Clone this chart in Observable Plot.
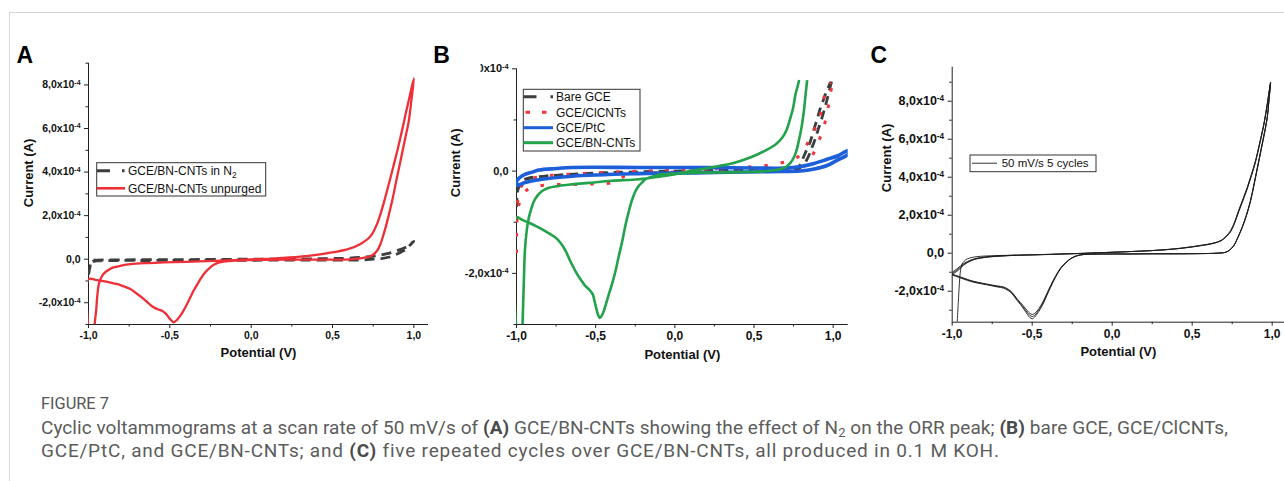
<!DOCTYPE html>
<html><head><meta charset="utf-8">
<script src="https://cdn.jsdelivr.net/npm/d3@7"></script>
<script src="https://cdn.jsdelivr.net/npm/@observablehq/plot@0.6"></script>
<style>
html,body{margin:0;padding:0;background:#fff}
body{width:1284px;height:481px;overflow:hidden;position:relative;font-family:"Liberation Sans",Arial,sans-serif}
#frameLine{position:absolute;left:9px;top:12px;width:1290px;height:480px;border-top:1px solid #d6d6d6;border-left:1px solid #d6d6d6}
.panel{position:absolute}
.letter{position:absolute;font:bold 23px/23px "Liberation Sans",Arial,sans-serif;color:#000}
#caption{position:absolute;left:41px;top:391px;font-family:Roboto,"Noto Sans",sans-serif;color:#5c5c5c;font-size:17px;line-height:23.5px}
#caption .capline{display:inline-block;white-space:nowrap}
#caption b{color:#4a4a4a;font-weight:700}
#caption sub{font-size:0.68em;line-height:0;vertical-align:-3px}
#figTitle{color:#555;display:inline-block;white-space:nowrap}
</style></head>
<body>
<div id="frameLine"></div>
<div class="letter" style="left:16.5px;top:43.7px">A</div>
<div class="letter" style="left:433.3px;top:43.7px">B</div>
<div class="letter" style="left:870.5px;top:43.7px">C</div>
<div id="panelA" class="panel" style="left:0px;top:40px"></div>
<div id="panelB" class="panel" style="left:430px;top:40px"></div>
<div id="panelC" class="panel" style="left:860px;top:40px"></div>
<div id="caption">
  <div><span id="figTitle">FIGURE 7</span></div>
  <div><span class="capline" id="cap1">Cyclic voltammograms at a scan rate of 50 mV/s of <b>(A)</b> GCE/BN-CNTs showing the effect of N<sub>2</sub> on the ORR peak; <b>(B)</b> bare GCE, GCE/ClCNTs,</span></div>
  <div><span class="capline" id="cap2">GCE/PtC, and GCE/BN-CNTs; and <b>(C)</b> five repeated cycles over GCE/BN-CNTs, all produced in 0.1 M KOH.</span></div>
</div>
<script>
// ================= DATA =================
// Potential (V) ticks
const xMajorTicks = [-1, -0.5, 0, 0.5, 1];
const xMinorTicks = [-0.75, -0.25, 0.25, 0.75];
// Current ticks (A)
const aYMajor = [-2e-4, 0, 2e-4, 4e-4, 6e-4, 8e-4];
const aYMinor = [-3e-4, -1e-4, 1e-4, 3e-4, 5e-4, 7e-4, 9e-4];
const bYMajor = [-2e-4, 0, 2e-4];
const bYMinor = [-3e-4, -1e-4, 1e-4];
const cYMajor = [-2e-4, 0, 2e-4, 4e-4, 6e-4, 8e-4];
const cYMinor = [-3e-4, -1e-4, 1e-4, 3e-4, 5e-4, 7e-4, 9e-4];

// Panel A series names
const aNames = ["GCE/BN-CNTs in N2", "GCE/BN-CNTs unpurged"];
// Panel A: [potential V, current x1e-4 A]
const aN2 = [[-1.0,-0.7],[-0.992,-0.4],[-0.985,-0.15],[-0.975,-0.06],[-0.95,-0.04],[-0.8,-0.03],[-0.5,-0.02],[-0.2,-0.01],[0.0,0.0],[0.3,0.01],[0.5,0.03],[0.6,0.05],[0.7,0.1],[0.75,0.14],[0.8,0.2],[0.85,0.28],[0.9,0.4],[0.95,0.55],[1.0,0.82],
  [0.97,0.6],[0.95,0.45],[0.92,0.32],[0.9,0.25],[0.85,0.1],[0.8,0.03],[0.75,0.0],[0.7,-0.03],[0.6,-0.04],[0.3,-0.04],[0.0,-0.05],[-0.3,-0.05],[-0.6,-0.06],[-0.8,-0.06],[-0.9,-0.07],[-0.95,-0.08],[-0.98,-0.12],[-1.0,-0.3]];
const aUnpurged = [[-0.965,-3.2],[-0.958,-2.7],[-0.953,-2.36],[-0.945,-1.6],[-0.935,-1.1],[-0.92,-0.82],[-0.9,-0.62],[-0.87,-0.46],[-0.846,-0.38],[-0.8,-0.3],[-0.743,-0.23],[-0.65,-0.18],[-0.54,-0.15],[-0.4,-0.12],[-0.23,-0.08],[-0.1,-0.04],[0.0,-0.01],[0.15,0.04],[0.303,0.12],[0.4,0.2],[0.508,0.32],[0.6,0.47],[0.672,0.7],[0.72,0.95],[0.744,1.16],[0.77,1.55],[0.795,2.08],[0.82,2.72],[0.846,3.45],[0.872,4.2],[0.898,4.97],[0.924,5.8],[0.949,6.65],[0.975,7.5],[1.0,8.3],
  [0.985,7.3],[0.969,6.35],[0.944,5.45],[0.918,4.52],[0.892,3.6],[0.867,2.69],[0.84,1.85],[0.815,1.16],[0.795,0.7],[0.775,0.4],[0.745,0.18],[0.713,0.09],[0.66,0.03],[0.61,-0.01],[0.45,-0.02],[0.3,-0.02],[0.1,-0.03],[0.0,-0.04],[-0.1,-0.06],[-0.17,-0.11],[-0.2,-0.16],[-0.23,-0.26],[-0.26,-0.43],[-0.292,-0.69],[-0.323,-1.05],[-0.354,-1.45],[-0.394,-2.06],[-0.415,-2.35],[-0.436,-2.6],[-0.455,-2.78],[-0.477,-2.9],[-0.495,-2.78],[-0.514,-2.6],[-0.53,-2.47],[-0.548,-2.37],[-0.575,-2.3],[-0.6,-2.21],[-0.63,-2.03],[-0.66,-1.83],[-0.7,-1.6],[-0.743,-1.37],[-0.8,-1.2],[-0.846,-1.11],[-0.9,-1.02],[-0.95,-0.96],[-1.0,-0.92],[-1.0,-3.2]];

// Panel B series names
const bNames = ["Bare GCE", "GCE/ClCNTs", "GCE/PtC", "GCE/BN-CNTs"];
const bBare = [[-1.0,-0.7],[-0.995,-0.45],[-0.985,-0.28],[-0.97,-0.2],[-0.93,-0.14],[-0.86,-0.11],[-0.7,-0.07],[-0.5,-0.04],[-0.3,-0.02],[0.0,0.0],[0.4,0.02],[0.7,0.03],[0.773,0.05],[0.795,0.15],[0.815,0.29],[0.836,0.44],[0.857,0.59],[0.872,0.75],[0.888,0.91],[0.904,1.07],[0.92,1.24],[0.936,1.37],[0.951,1.5],[0.967,1.62],[0.983,1.74],[null,null],
  [0.99,1.75],[0.976,1.58],[0.962,1.4],[0.944,1.2],[0.925,1.0],[0.906,0.82],[0.886,0.62],[0.866,0.46],[0.846,0.3],[0.826,0.18],[0.806,0.1],[0.76,0.02],[0.5,0.0],[0.0,-0.02],[-0.3,-0.04],[-0.6,-0.07],[-0.8,-0.1],[-0.9,-0.13],[-0.95,-0.18],[-0.99,-0.35],[-1.0,-0.5]];
const bClCNTs = [[-1.0,-1.6],[-0.998,-1.0],[-0.993,-0.6],[-0.985,-0.42],[-0.97,-0.3],[-0.94,-0.2],[-0.9,-0.14],[-0.8,-0.09],[-0.6,-0.05],[-0.4,-0.02],[-0.2,0.0],[0.0,0.02],[0.2,0.04],[0.351,0.07],[0.45,0.08],[0.552,0.1],[0.636,0.14],[0.72,0.2],[0.783,0.29],[0.815,0.42],[0.846,0.59],[0.868,0.72],[0.888,0.85],[0.905,0.98],[0.92,1.11],[0.933,1.29],[0.945,1.47],[0.965,1.6],[0.983,1.73],[null,null],
  [0.99,1.62],[0.983,1.53],[0.975,1.38],[0.968,1.24],[0.957,1.07],[0.945,0.91],[0.93,0.76],[0.913,0.62],[0.895,0.48],[0.878,0.36],[0.86,0.25],[0.84,0.15],[0.8,0.07],[0.7,0.03],[0.5,0.01],[0.2,-0.01],[0.0,-0.02],[-0.2,-0.04],[-0.28,-0.08],[-0.33,-0.12],[-0.37,-0.2],[-0.42,-0.24],[-0.5,-0.25],[-0.6,-0.26],[-0.7,-0.26],[-0.8,-0.27],[-0.87,-0.29],[-0.92,-0.34],[-0.95,-0.42],[-0.98,-0.6],[-0.995,-0.9],[-1.0,-1.2]];
const bPtC = [[-1.0,-0.2],[-0.98,-0.13],[-0.95,-0.07],[-0.9,-0.02],[-0.859,0.02],[-0.75,0.05],[-0.648,0.07],[-0.227,0.07],[0.194,0.07],[0.5,0.06],[0.69,0.06],[0.794,0.09],[0.88,0.15],[0.962,0.23],[1.03,0.3],[1.095,0.4],
  [1.095,0.33],[1.03,0.22],[0.962,0.11],[0.88,0.04],[0.794,0.0],[0.6,-0.01],[0.194,-0.03],[-0.227,-0.05],[-0.648,-0.1],[-0.859,-0.17],[-0.95,-0.23],[-1.0,-0.28],[-1.0,-0.2]];
const bBNCNTs = [[-0.964,-3.2],[-0.958,-2.6],[-0.953,-2.1],[-0.947,-1.56],[-0.935,-1.15],[-0.922,-0.91],[-0.905,-0.72],[-0.89,-0.59],[-0.865,-0.47],[-0.838,-0.39],[-0.8,-0.33],[-0.733,-0.29],[-0.65,-0.26],[-0.543,-0.23],[-0.4,-0.19],[-0.228,-0.16],[-0.1,-0.11],[-0.017,-0.07],[0.1,0.0],[0.19,0.05],[0.28,0.1],[0.372,0.16],[0.48,0.27],[0.583,0.42],[0.64,0.53],[0.678,0.65],[0.705,0.8],[0.73,1.04],[0.748,1.25],[0.762,1.5],[0.775,1.65],[0.785,1.78],[null,null],
  [0.836,1.78],[0.826,1.5],[0.815,1.17],[0.8,0.85],[0.783,0.59],[0.768,0.4],[0.751,0.26],[0.73,0.16],[0.71,0.1],[0.68,0.05],[0.583,0.0],[0.4,-0.02],[0.162,-0.03],[0.0,-0.05],[-0.1,-0.07],[-0.164,-0.13],[-0.185,-0.16],[-0.206,-0.22],[-0.228,-0.29],[-0.248,-0.39],[-0.27,-0.56],[-0.29,-0.78],[-0.312,-1.06],[-0.332,-1.37],[-0.354,-1.66],[-0.375,-1.96],[-0.396,-2.2],[-0.417,-2.41],[-0.435,-2.6],[-0.449,-2.74],[-0.462,-2.83],[-0.474,-2.87],[-0.486,-2.8],[-0.497,-2.67],[-0.508,-2.53],[-0.518,-2.41],[-0.54,-2.32],[-0.564,-2.25],[-0.595,-2.12],[-0.627,-1.96],[-0.66,-1.76],[-0.69,-1.56],[-0.72,-1.41],[-0.754,-1.3],[-0.8,-1.21],[-0.838,-1.14],[-0.88,-1.07],[-0.922,-1.01],[-0.96,-0.96],[-1.0,-0.91],[-1.0,-3.2]];

// Panel C: five repeated cycles (shared potential sweep, current x1e-4 A)
const cName = "50 mV/s 5 cycles";
const cPotential = [
  -1.0,-0.975,-0.95,-0.93,-0.906,-0.875,-0.844,-0.8,-0.76,-0.68,
  -0.6,-0.5,-0.4,-0.3,-0.2,-0.1,0.0,0.12,0.25,0.4,
  0.55,0.63,0.68,0.71,0.74,0.765,0.79,0.817,0.844,0.87,
  0.896,0.922,0.948,0.97,0.99,0.98,0.969,0.943,0.916,0.89,
  0.864,0.838,0.812,0.786,0.76,0.735,0.708,0.65,0.55,0.4,
  0.25,0.1,0.0,-0.135,-0.165,-0.198,-0.23,-0.26,-0.29,-0.323,
  -0.355,-0.385,-0.407,-0.427,-0.448,-0.469,-0.485,-0.5,-0.515,-0.53,
  -0.552,-0.573,-0.594,-0.615,-0.636,-0.657,-0.678,-0.72,-0.76,-0.81,
  -0.865,-0.905,-0.948,-1.0];
const cCycle1 = [
  -1.0,-0.85,-0.68,-0.55,-0.44,-0.33,-0.26,-0.2,-0.17,-0.13,
  -0.1,-0.08,-0.06,-0.03,-0.01,0.02,0.05,0.09,0.14,0.24,
  0.41,0.53,0.67,0.88,1.19,1.65,2.25,2.85,3.47,4.15,
  4.88,5.82,6.81,7.9,9.0,8.1,7.16,6.0,4.88,3.8,
  2.77,2.0,1.37,0.85,0.41,0.18,0.05,0.0,-0.02,-0.03,
  -0.03,-0.04,-0.04,-0.05,-0.06,-0.09,-0.17,-0.3,-0.52,-0.82,
  -1.28,-1.79,-2.2,-2.58,-2.92,-3.19,-3.36,-3.45,-3.38,-3.22,
  -2.95,-2.7,-2.49,-2.25,-2.05,-1.93,-1.84,-1.77,-1.7,-1.62,
  -1.53,-1.43,-1.3,-1.15];
const cCycle2 = [
  -1.05,-0.92,-0.75,-0.6,-0.48,-0.36,-0.28,-0.22,-0.18,-0.14,
  -0.11,-0.09,-0.06,-0.04,-0.01,0.02,0.05,0.09,0.14,0.23,
  0.4,0.52,0.66,0.86,1.15,1.6,2.2,2.8,3.42,4.1,
  4.83,5.78,6.78,7.88,8.98,8.08,7.12,5.95,4.84,3.76,
  2.74,1.97,1.35,0.84,0.4,0.17,0.05,0.0,-0.02,-0.03,
  -0.03,-0.04,-0.04,-0.05,-0.06,-0.09,-0.16,-0.29,-0.5,-0.8,
  -1.25,-1.75,-2.15,-2.52,-2.86,-3.12,-3.27,-3.33,-3.27,-3.12,
  -2.88,-2.65,-2.44,-2.2,-2.0,-1.89,-1.8,-1.74,-1.68,-1.6,
  -1.5,-1.4,-1.27,-1.12];
const cCycle3 = [
  -1.1,-0.98,-0.8,-0.64,-0.5,-0.37,-0.29,-0.23,-0.19,-0.14,
  -0.11,-0.09,-0.07,-0.04,-0.02,0.02,0.05,0.09,0.14,0.23,
  0.39,0.51,0.65,0.85,1.13,1.58,2.16,2.76,3.38,4.06,
  4.8,5.74,6.75,7.85,8.96,8.05,7.1,5.92,4.8,3.72,
  2.7,1.94,1.33,0.82,0.39,0.17,0.05,0.0,-0.02,-0.03,
  -0.03,-0.04,-0.04,-0.05,-0.06,-0.09,-0.16,-0.28,-0.49,-0.78,
  -1.22,-1.7,-2.1,-2.46,-2.78,-3.04,-3.17,-3.22,-3.16,-3.03,
  -2.8,-2.6,-2.4,-2.17,-1.98,-1.86,-1.78,-1.72,-1.66,-1.58,
  -1.48,-1.38,-1.25,-1.1];
// first-cycle start of the sweep
const cStart = [[-0.969,-3.7],[-0.962,-2.6],[-0.955,-1.6],[-0.948,-0.9],[-0.94,-0.6],[-0.925,-0.42],[-0.906,-0.3],[-0.875,-0.22],[-0.844,-0.18],[-0.8,-0.15],[-0.7,-0.12],[-0.6,-0.1]];

// ================= HELPERS =================
const SCALE = 1e-4;
const pairsRows = (pairs) => pairs.map(([v, i]) => ({v, i: i == null ? null : i * SCALE}));
const cycleRows = (V, I) => V.map((v, k) => ({v, i: I[k] * SCALE}));
const xFmt = d => d.toFixed(1).replace(".", ",");
const yFmt = d => Math.abs(d) < 1e-12 ? "0,0" : (d / 1e-4).toFixed(1).replace(".", ",") + "x10⁻⁴";
const FONT = '"Liberation Sans", Arial, sans-serif';

function makePanel(cfg) {
  const marks = [
    Plot.ruleX([cfg.xDomain[0]], {stroke: "#222", strokeWidth: 1}),
    Plot.ruleY([cfg.yDomain[0]], {stroke: "#222", strokeWidth: 1}),
    Plot.axisX({ticks: xMajorTicks, tickFormat: xFmt, tickSize: 4, tickPadding: 3, label: null, stroke: "#222", fontSize: cfg.xFont}),
    Plot.axisX({ticks: xMinorTicks, tickFormat: () => "", tickSize: 2.5, tickPadding: 0, label: null, stroke: "#222"}),
    Plot.axisY({ticks: cfg.yMajor, tickFormat: yFmt, tickSize: 4, tickPadding: 4, label: null, stroke: "#222", fontSize: cfg.yFont}),
    Plot.axisY({ticks: cfg.yMinor, tickFormat: () => "", tickSize: 2.5, tickPadding: 0, label: null, stroke: "#222"}),
    ...cfg.series.map(s => Plot.line(s.rows, {
      x: "v", y: "i", stroke: s.color, strokeWidth: s.width,
      strokeDasharray: s.dash || null, strokeLinecap: "butt", strokeLinejoin: "round",
      curve: "catmull-rom", clip: true
    })),
    Plot.text(["Potential (V)"], {text: d => d, frameAnchor: "bottom", dy: cfg.xLabelDy, fontSize: 13, fontWeight: "bold", fill: "#111"}),
    Plot.text(["Current (A)"], {text: d => d, frameAnchor: "left", dx: cfg.yLabelDx, dy: cfg.yLabelDy, rotate: -90, fontSize: 13, fontWeight: "bold", fill: "#111"})
  ];
  const svg = Plot.plot({
    width: cfg.width, height: cfg.height,
    marginTop: cfg.m[0], marginRight: cfg.m[1], marginBottom: cfg.m[2], marginLeft: cfg.m[3],
    x: {domain: cfg.xDomain},
    y: {domain: cfg.yDomain},
    style: {fontFamily: FONT, fontSize: "10.5px", fontWeight: "bold", color: "#111", background: "transparent", overflow: "visible"},
    marks
  });
  // superscript exponent on y tick labels
  d3.select(svg).selectAll('g[aria-label="y-axis tick label"] text').each(function() {
    const s = this.textContent;
    const m = s.match(/^(.*x10)⁻⁴$/);
    if (!m) return;
    const t = d3.select(this);
    t.text(m[1]);
    t.append("tspan").attr("dy", "-0.5em").attr("font-size", (cfg.yFont * 0.66) + "px").text("-4");
  });
  return svg;
}

function addLegend(svg, box, rows, fontSize) {
  const g = d3.select(svg).append("g").attr("aria-label", "legend");
  g.append("rect").attr("x", box[0]).attr("y", box[1]).attr("width", box[2]).attr("height", box[3])
    .attr("fill", "white").attr("stroke", "#333").attr("stroke-width", 1);
  rows.forEach(r => {
    g.append("line").attr("x1", r.x1).attr("x2", r.x2).attr("y1", r.y).attr("y2", r.y)
      .attr("stroke", r.color).attr("stroke-width", r.width).attr("stroke-dasharray", r.dash || null);
    const t = g.append("text").attr("x", r.tx).attr("y", r.y).attr("dy", "0.36em")
      .attr("font-size", fontSize).attr("font-weight", "normal").attr("font-family", FONT)
      .attr("text-anchor", "start").attr("fill", "#111");
    const m = r.label.match(/^(.* N)2$/);
    if (m) {
      t.text(m[1]);
      t.append("tspan").attr("dy", "0.3em").attr("font-size", fontSize * 0.7).text("2");
    } else t.text(r.label);
  });
}

// ================= PANEL A =================
const colRedA = "#ee2f37", colDark = "#3d3d3d";
const svgA = makePanel({
  width: 430, height: 330, m: [22.7, 2, 46, 88],
  xDomain: [-1, 1.09], yDomain: [-3e-4, 9e-4], yMajor: aYMajor, yMinor: aYMinor,
  xFont: 10.5, yFont: 10.5,
  xLabelDy: 32.7, yLabelDx: -59.7, yLabelDy: 13.4,
  series: [
    {rows: pairsRows(aN2), color: colDark, width: 2.8, dash: "10,6"},
    {rows: pairsRows(aUnpurged), color: colRedA, width: 2.3}
  ]
});
addLegend(svgA, [96.7, 122.7, 169, 33.3], [
  {label: aNames[0], color: colDark, width: 3, dash: "13,12,2.5,20", x1: 97, x2: 125, y: 130.7, tx: 128},
  {label: aNames[1], color: colRedA, width: 2.6, x1: 97, x2: 125, y: 148.3, tx: 128}
], 12);
document.getElementById("panelA").appendChild(svgA);

// ================= PANEL B =================
const colGreen = "#22a24b", colBlue = "#1c5fd8", colRedB = "#f0353c";
const svgB = makePanel({
  width: 430, height: 330, m: [28.3, 12.3, 46, 86],
  xDomain: [-1, 1.095], yDomain: [-3e-4, 2e-4], yMajor: bYMajor, yMinor: bYMinor,
  xFont: 12, yFont: 11,
  xLabelDy: 34, yLabelDx: -61, yLabelDy: 0.5,
  series: [
    {rows: pairsRows(bBare), color: colDark, width: 2.8, dash: "9,6"},
    {rows: pairsRows(bClCNTs), color: colRedB, width: 3, dash: "3.5,13"},
    {rows: pairsRows(bPtC), color: colBlue, width: 3.6},
    {rows: pairsRows(bBNCNTs), color: colGreen, width: 2.6}
  ]
});
// the reference crop cuts off the start of the top tick label
d3.select(svgB).append("rect").attr("x", 22).attr("y", 21).attr("width", 28.5).attr("height", 16).attr("fill", "white");
addLegend(svgB, [93.3, 49.3, 116.7, 61.7], [
  {label: bNames[0], color: colDark, width: 3, dash: "13,14,3,20", x1: 93.5, x2: 123, y: 56.7, tx: 126},
  {label: bNames[1], color: colRedB, width: 3, dash: "0,2,4.5,12,4.5,20", x1: 93.5, x2: 123, y: 72.3, tx: 126},
  {label: bNames[2], color: colBlue, width: 3, x1: 93.5, x2: 123, y: 87.7, tx: 126},
  {label: bNames[3], color: colGreen, width: 3, x1: 93.5, x2: 123, y: 102.7, tx: 126}
], 12);
document.getElementById("panelB").appendChild(svgB);

// ================= PANEL C =================
const colC = "#1c1c1c";
const svgC = makePanel({
  width: 424, height: 330, m: [26.7, 0, 48.3, 91.7],
  xDomain: [-1, 1.077], yDomain: [-3.63e-4, 9.79e-4], yMajor: cYMajor, yMinor: cYMinor,
  xFont: 12, yFont: 12.5,
  xLabelDy: 33.3, yLabelDx: -65.7, yLabelDy: -2.5,
  series: [
    {rows: pairsRows(cStart), color: colC, width: 0.9},
    {rows: cycleRows(cPotential, cCycle1), color: colC, width: 0.9},
    {rows: cycleRows(cPotential, cCycle2), color: colC, width: 0.9},
    {rows: cycleRows(cPotential, cCycle3), color: colC, width: 0.9}
  ]
});
addLegend(svgC, [110, 115, 126, 16.7], [
  {label: cName, color: "#6d6d6d", width: 1.4, x1: 112, x2: 137, y: 123.3, tx: 141.7}
], 11.5);
document.getElementById("panelC").appendChild(svgC);

// ================= CAPTION FIT =================
function fitWidth(el, target) {
  const w = el.getBoundingClientRect().width;
  const n = el.textContent.length;
  el.style.letterSpacing = ((target - w) / n).toFixed(3) + "px";
}
const cap1 = document.getElementById("cap1");
const w1 = cap1.getBoundingClientRect().width;
const fs = Math.max(14, Math.min(19, 17 * 1187 / w1));
document.getElementById("caption").style.fontSize = fs.toFixed(2) + "px";
fitWidth(cap1, 1187);
fitWidth(document.getElementById("cap2"), 958);
const ft = document.getElementById("figTitle");
ft.style.fontSize = fs.toFixed(2) + "px";
const wt = ft.getBoundingClientRect().width;
ft.style.fontSize = Math.max(14, Math.min(fs, fs * 68 / wt)).toFixed(2) + "px";
</script>
</body></html>
